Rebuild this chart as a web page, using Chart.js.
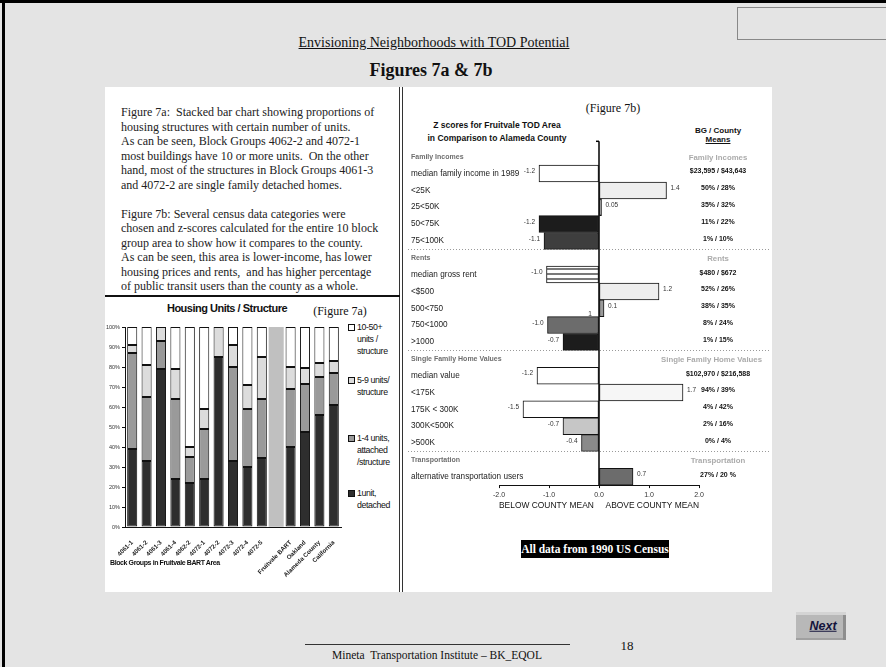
<!DOCTYPE html>
<html><head><meta charset="utf-8">
<script src="https://cdn.jsdelivr.net/npm/chart.js@4.4.0/dist/chart.umd.min.js"></script>
<style>
html,body{margin:0;padding:0;}
body{width:886px;height:667px;background:#e4e4e4;position:relative;overflow:hidden;font-family:"Liberation Sans",Arial,sans-serif;}
.abs{position:absolute;white-space:nowrap;}
.c{transform:translate(-50%,-50%);line-height:1;}
.serif{font-family:"Liberation Serif","Times New Roman",serif;}
.leg{position:absolute;font-size:8.8px;line-height:12px;letter-spacing:-0.4px;color:#111;}
.sq{position:absolute;width:5px;height:5px;border:1px solid #111;}
</style></head><body>
<script>
// ---------- Figure 7a data ----------
const blockGroups = ['4061-1','4061-2','4061-3','4061-4','4062-2','4072-1','4072-2','4072-3','4072-4','4072-5','','Fruitvale BART','Oakland','Alameda County','California'];
const oneUnitDetached   = [39, 33, 79, 24, 22, 24, 85, 33, 30, 34.5, null, 40, 47.5, 56, 61];
const oneToFourUnits    = [48, 32, 14, 40, 13, 25, null, 47, 29, 29.5, null, 29, 24, 19, 16];
const fiveToNineUnits   = [4, 16, 7, 15, 5, 10, 15, 11, 12, 21, null, 11, 8, 7, 6];
const tenToFiftyUnits   = [9, 19, null, 21, 60, 41, null, 9, 29, 15, null, 20, 20.5, 18, 17];
const spacerBand        = [null,null,null,null,null,null,null,null,null,null,100,null,null,null,null];
const pctTicks = [0,10,20,30,40,50,60,70,80,90,100];

// ---------- Figure 7b data ----------
const zRows = ['Family Incomes','median family income in 1989','<25K','25<50K','50<75K','75<100K',
  'Rents','median gross rent','<$500','500<750','750<1000','>1000',
  'Single Family Home Values','median value','<175K','175K < 300K','300K<500K','>500K',
  'Transportation','alternative transportation users'];
const zScores = [null,-1.2,1.35,0.05,-1.2,-1.1, null,-1.05,1.2,0.1,-1.03,-0.72, null,-1.24,1.68,-1.52,-0.72,-0.35, null,0.68];
const zLabels = ['','-1.2','1.4','0.05','-1.2','-1.1', '','-1.0','1.2','0.1','-1.0','-0.7', '','-1.2','1.7','-1.5','-0.7','-0.4', '','0.7'];
const bgCountyMeans = ['Family Incomes','$23,595 / $43,643','50% / 28%','35% / 32%','11% / 22%','1% / 10%',
  'Rents','$480 / $672','52% / 26%','38% / 35%','8% / 24%','1% / 15%',
  'Single Family Home Values','$102,970 / $216,588','94% / 39%','4% / 42%','2% / 16%','0% / 4%',
  'Transportation','27% / 20 %'];
const zTicks = [-2,-1,0,1,2];
</script>

<!-- frame -->
<div class="abs" style="left:0;top:0;width:886px;height:3px;background:#000"></div>
<div class="abs" style="left:2px;top:0;width:3px;height:667px;background:#000"></div>
<div class="abs" style="left:737px;top:7px;width:150px;height:33px;border:1px solid #888;box-sizing:border-box"></div>

<div class="abs c serif" style="left:434px;top:43px;font-size:14px;text-decoration:underline;color:#111">Envisioning Neighborhoods with TOD Potential</div>
<div class="abs c serif" style="left:431px;top:70px;font-size:18px;font-weight:bold;color:#111">Figures 7a &amp; 7b</div>

<!-- white panel -->
<div class="abs" style="left:105px;top:87px;width:667px;height:505px;background:#fff"></div>
<div class="abs" style="left:399px;top:87px;width:4px;height:505px;border-left:1px solid #333;border-right:1px solid #333;box-sizing:border-box"></div>
<div class="abs" style="left:105px;top:295px;width:295px;height:1.5px;background:#111"></div>

<div class="abs serif" style="left:121px;top:105px;font-size:12px;line-height:14.5px;color:#222">Figure 7a:&nbsp; Stacked bar chart showing proportions of<br>housing structures with certain number of units.<br>As can be seen, Block Groups 4062-2 and 4072-1<br>most buildings have 10 or more units.&nbsp; On the other<br>hand, most of the structures in Block Groups 4061-3<br>and 4072-2 are single family detached homes.<br><br>Figure 7b: Several census data categories were<br>chosen and z-scores calculated for the entire 10 block<br>group area to show how it compares to the county.<br>As can be seen, this area is lower-income, has lower<br>housing prices and rents,&nbsp; and has higher percentage<br>of public transit users than the county as a whole.</div>

<!-- Figure 7a -->
<div class="abs c" style="left:227px;top:308px;font-size:11px;font-weight:bold;letter-spacing:-0.5px;color:#111">Housing Units / Structure</div>
<div class="abs c serif" style="left:340px;top:311px;font-size:12px;color:#111">(Figure 7a)</div>
<canvas id="c7a" style="position:absolute;left:105px;top:298px;width:240px;height:294px"></canvas>
<div class="abs" style="left:110px;top:559px;font-size:7px;font-weight:bold;letter-spacing:-0.4px;color:#111">Block Groups in Fruitvale BART Area</div>

<div class="sq" style="left:348px;top:324px;background:#fff"></div>
<div class="leg" style="left:357px;top:321px">10-50+<br>units /<br>structure</div>
<div class="sq" style="left:348px;top:377px;background:#dcdcdc"></div>
<div class="leg" style="left:357px;top:374px">5-9 units/<br>structure</div>
<div class="sq" style="left:348px;top:435px;background:#9a9a9a"></div>
<div class="leg" style="left:357px;top:432px">1-4 units,<br>attached<br>/structure</div>
<div class="sq" style="left:348px;top:490px;background:#2e2e2e"></div>
<div class="leg" style="left:357px;top:487px">1unit,<br>detached</div>

<!-- Figure 7b -->
<div class="abs c serif" style="left:613px;top:108px;font-size:12px;color:#111">(Figure 7b)</div>
<div class="abs c" style="left:497px;top:125px;font-size:8.5px;font-weight:bold;color:#111">Z scores for Fruitvale TOD Area</div>
<div class="abs c" style="left:497px;top:138px;font-size:8.5px;font-weight:bold;color:#111">in Comparison to Alameda County</div>
<div class="abs c" style="left:718px;top:131px;font-size:8px;font-weight:bold;color:#111">BG / County</div>
<div class="abs c" style="left:718px;top:140px;font-size:8px;font-weight:bold;color:#111;text-decoration:underline">Means</div>
<canvas id="c7b" style="position:absolute;left:403px;top:140px;width:369px;height:372px"></canvas>
<div class="abs serif" style="left:521px;top:540px;width:148px;height:18px;background:#000;color:#fff;font-size:11.5px;font-weight:bold;line-height:18px;text-align:center">All data from 1990 US Census</div>

<!-- footer -->
<div class="abs" style="left:305px;top:644px;width:265px;height:1px;background:#333"></div>
<div class="abs c serif" style="left:437px;top:656px;font-size:11.5px;color:#111">Mineta&nbsp; Transportation Institute – BK_EQOL</div>
<div class="abs c serif" style="left:627px;top:645px;font-size:13px;color:#111">18</div>
<div class="abs" style="left:796px;top:612px;width:50px;height:28px;background:#b8b8b8;box-shadow:inset 0 3px 0 #d4d4d4, inset -3px 0 0 #8e8e8e, inset 0 -2px 0 #a0a0a0;"></div>
<div class="abs c" style="left:823px;top:626px;font-size:12.5px;font-weight:bold;font-style:italic;text-decoration:underline;color:#14143c">Next</div>

<script>
const FONT = '"Liberation Sans", Arial, sans-serif';
Chart.defaults.font.family = FONT;
Chart.defaults.animation = false;

// ---- 7a ----
const bordered = {borderColor:'#111', borderWidth:1, borderSkipped:false, barPercentage:0.7, categoryPercentage:1};
new Chart(document.getElementById('c7a'), {
  type:'bar',
  data:{labels:blockGroups, datasets:[
    Object.assign({label:'1unit, detached', data:oneUnitDetached, backgroundColor:'#2e2e2e'}, bordered),
    Object.assign({label:'1-4 units, attached /structure', data:oneToFourUnits, backgroundColor:'#9a9a9a'}, bordered),
    Object.assign({label:'5-9 units/ structure', data:fiveToNineUnits, backgroundColor:'#dcdcdc'}, bordered),
    Object.assign({label:'10-50+ units / structure', data:tenToFiftyUnits, backgroundColor:'#ffffff'}, bordered),
    {label:'spacer', data:spacerBand, backgroundColor:'#c0c0c0', borderWidth:0, barPercentage:1, categoryPercentage:1}
  ]},
  options:{
    responsive:false, maintainAspectRatio:false,
    layout:{padding:{top:29,right:4,left:0,bottom:0}},
    plugins:{legend:{display:false}, tooltip:{enabled:false}},
    scales:{
      x:{stacked:true, grid:{display:false}, border:{color:'#111',width:1},
         ticks:{autoSkip:false, minRotation:45, maxRotation:45, padding:4, color:'#222', font:{size:6.2, weight:'bold'}},
         afterFit(s){s.height=65;}},
      y:{stacked:true, min:0, max:100,
         afterBuildTicks(s){s.ticks = pctTicks.map(v=>({value:v}));},
         ticks:{callback:v=>v+'%', color:'#333', font:{size:5.5}, padding:2},
         grid:{drawOnChartArea:false, tickLength:3, color:'#111'}, border:{color:'#111',width:1},
         afterFit(s){s.width=20;}}
    }
  }
});

// ---- 7b ----
const stripeCanvas = document.createElement('canvas');
stripeCanvas.width = 4; stripeCanvas.height = 5;
const sctx = stripeCanvas.getContext('2d');
sctx.fillStyle='#ffffff'; sctx.fillRect(0,0,4,5);
sctx.fillStyle='#7a7a7a'; sctx.fillRect(0,3,4,2);
const stripe = sctx.createPattern(stripeCanvas,'repeat');
const zFills = [null,'#ffffff','#eeeeee','#8a8a8a','#1c1c1c','#3e3e3e', null,stripe,'#eeeeee','#999999','#6c6c6c','#1c1c1c', null,'#ffffff','#f6f6f6','#ffffff','#c6c6c6','#8a8a8a', null,'#6c6c6c'];

const zDeco = {
  id:'zDeco',
  afterDatasetsDraw(chart){
    const {ctx, chartArea:ca, scales:{x,y}} = chart;
    const meta = chart.getDatasetMeta(0);
    ctx.save();
    // separators
    ctx.strokeStyle='#9a9a9a'; ctx.lineWidth=1; ctx.setLineDash([1,2]);
    zRows.forEach((r,i)=>{
      if (i>0 && zScores[i]===null){
        const yy = Math.round((y.getPixelForValue(i-1)+y.getPixelForValue(i))/2)+0.5;
        ctx.beginPath(); ctx.moveTo(5,yy); ctx.lineTo(367,yy); ctx.stroke();
      }
    });
    ctx.setLineDash([]);
    // zero line
    const x0 = x.getPixelForValue(0);
    ctx.strokeStyle='#000'; ctx.lineWidth=1.5;
    ctx.beginPath(); ctx.moveTo(x0, ca.top-7); ctx.lineTo(x0, ca.bottom); ctx.stroke();
    ctx.beginPath(); ctx.moveTo(x0-3, ca.top-7); ctx.lineTo(x0, ca.top-7); ctx.stroke();
    ctx.textBaseline='middle';
    zRows.forEach((r,i)=>{
      const yy = y.getPixelForValue(i);
      const hdr = zScores[i]===null;
      ctx.textAlign='left';
      ctx.font = hdr ? 'bold 7px '+FONT : '8.2px '+FONT;
      ctx.fillStyle = hdr ? '#6e6e6e' : '#222';
      ctx.fillText(r, 8, yy);
      // means column
      ctx.font = hdr ? 'bold 7.8px '+FONT : 'bold 7px '+FONT;
      ctx.fillStyle = hdr ? '#ababab' : '#111';
      ctx.textAlign='center';
      const w = ctx.measureText(bgCountyMeans[i]).width;
      const cx = Math.min(315, 359 - w/2);
      ctx.fillText(bgCountyMeans[i], cx, yy + (hdr ? 1.5 : -2));
      // value labels
      if (!hdr){
        const el = meta.data[i];
        ctx.font = '6.5px '+FONT; ctx.fillStyle='#333';
        if (zScores[i] < 0){ ctx.textAlign='right'; ctx.fillText(zLabels[i], el.x-4, yy-2); }
        else { ctx.textAlign='left'; ctx.fillText(zLabels[i], el.x+4, yy-2); }
      }
    });
    // stray glyph next to 500<750 in the original
    const yr = y.getPixelForValue(zRows.indexOf('500<750'));
    ctx.font='6.5px '+FONT; ctx.fillStyle='#333'; ctx.textAlign='center';
    ctx.fillText('1', x0-9, yr+6);
    ctx.restore();
  }
};

new Chart(document.getElementById('c7b'), {
  type:'bar',
  data:{labels:zRows, datasets:[{data:zScores, backgroundColor:zFills, borderColor:'#111', borderWidth:1, borderSkipped:false, barPercentage:1, categoryPercentage:1}]},
  options:{
    indexAxis:'y', responsive:false, maintainAspectRatio:false,
    layout:{padding:{top:8.3,left:96,right:73,bottom:0}},
    plugins:{legend:{display:false}, tooltip:{enabled:false}},
    scales:{
      y:{display:false},
      x:{min:-2, max:2,
         afterBuildTicks(s){s.ticks = zTicks.map(v=>({value:v}));},
         ticks:{callback:v=>Number(v).toFixed(1), color:'#333', font:{size:7}, padding:2.5, autoSkip:false, maxRotation:0},
         grid:{drawOnChartArea:false, tickLength:3, color:'#111'}, border:{color:'#111', width:1},
         title:{display:true, text:'BELOW COUNTY MEAN     ABOVE COUNTY MEAN', color:'#111', font:{size:8.5}, padding:{top:0,bottom:1.2}},
         afterFit(s){s.height=26.9;}}
    }
  },
  plugins:[zDeco]
});
</script>
</body></html>
